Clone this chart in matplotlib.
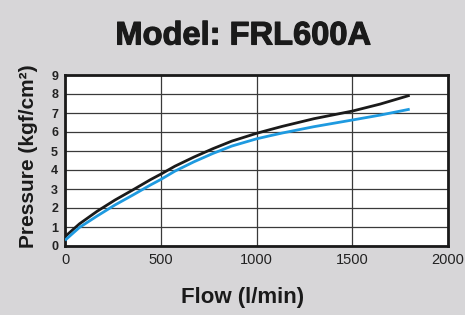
import matplotlib
matplotlib.use("Agg")
import matplotlib.pyplot as plt
import matplotlib.patheffects as pe

flow_black = [0, 40, 76, 168, 261, 354, 446, 500, 574, 673, 772, 871, 1000, 1069, 1136, 1300, 1500, 1646, 1800]
pres_black = [0.49, 0.85, 1.17, 1.83, 2.42, 2.95, 3.49, 3.78, 4.2, 4.68, 5.12, 5.52, 5.93, 6.12, 6.3, 6.7, 7.1, 7.47, 7.93]
flow_blue = [0, 40, 76, 168, 261, 354, 446, 500, 574, 673, 772, 871, 1000, 1069, 1136, 1300, 1500, 1646, 1800]
pres_blue = [0.3, 0.66, 0.98, 1.58, 2.16, 2.68, 3.21, 3.5, 3.94, 4.43, 4.87, 5.26, 5.64, 5.8, 5.95, 6.28, 6.63, 6.89, 7.2]
xticks = [0, 500, 1000, 1500, 2000]
yticks = list(range(0, 10))

bg = "#d7d6d8"
fig = plt.figure(figsize=(4.65, 3.15), dpi=100, facecolor=bg)
ax = fig.add_axes([65/465, 1 - 246/315, (448-65)/465, (246-75)/315])
ax.set_facecolor("white")
ax.plot(flow_black, pres_black, color="#1a1a1a", lw=2.0, solid_capstyle="butt",
        solid_joinstyle="round", zorder=3)
ax.plot(flow_blue, pres_blue, color="#1e9ae0", lw=2.0, solid_capstyle="butt",
        solid_joinstyle="round", zorder=3)
ax.set_xlim(0, 2000)
ax.set_ylim(0, 9)
ax.set_xticks(xticks)
ax.set_yticks(yticks)
ax.grid(True, color="#3a3a3a", lw=0.9)
ax.tick_params(length=0, pad=5)
for lab in ax.get_xticklabels():
    lab.set_fontfamily(["Liberation Sans Narrow", "Liberation Sans"])
    lab.set_fontsize(10.5)
    lab.set_color("#222222")
for lab in ax.get_yticklabels():
    lab.set_fontfamily("Liberation Sans")
    lab.set_fontweight("bold")
    lab.set_fontsize(9)
    lab.set_color("#222222")
for s in ax.spines.values():
    s.set_linewidth(2)
    s.set_color("#1a1a1a")

fig.text(243/465, 1 - 36/315, "Model: FRL600A", ha="center", va="center",
         fontsize=23.5, fontweight="bold", family="Liberation Sans", color="#1a1a1a",
         path_effects=[pe.withStroke(linewidth=0.8, foreground="#1a1a1a")])
fig.text(243/465, 1 - 298/315, "Flow (l/min)", ha="center", va="center",
         fontsize=16, fontweight="bold", family="Liberation Sans", color="#1a1a1a")
fig.text(29/465, 1 - 156/315, "Pressure (kgf/cm²)", ha="center", va="center", rotation=90,
         fontsize=15, fontweight="bold", family="Liberation Sans", color="#1a1a1a")

fig.savefig("out.png", dpi=100, facecolor=bg)
